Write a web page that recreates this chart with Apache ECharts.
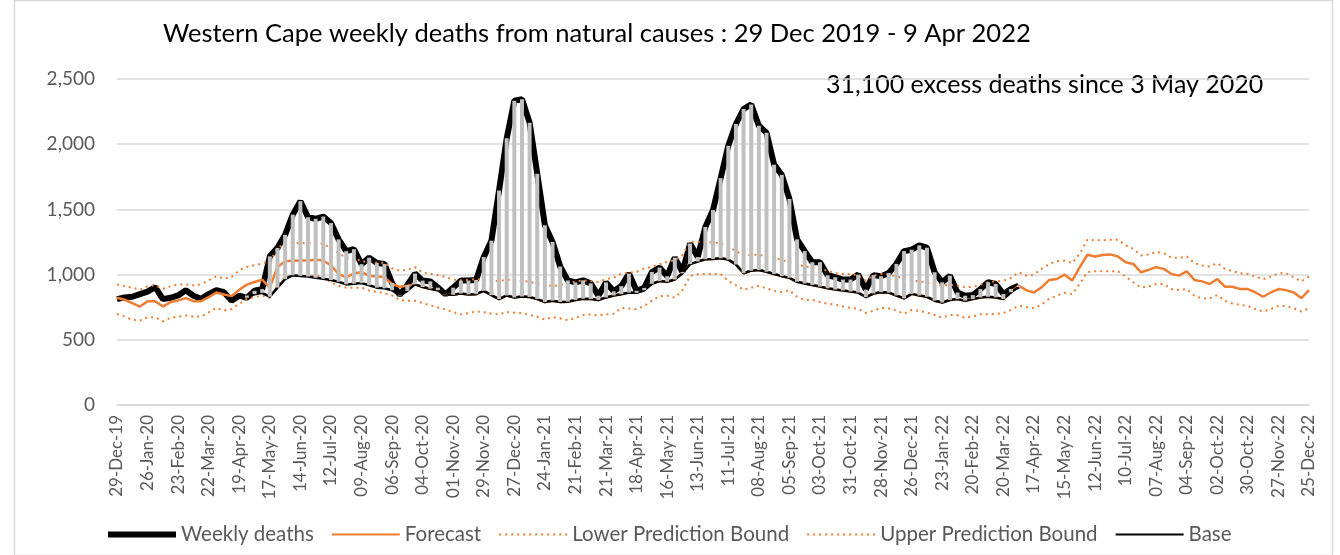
<!DOCTYPE html>
<html>
<head>
<meta charset="utf-8">
<title>Western Cape weekly deaths</title>
<script src="https://cdn.jsdelivr.net/npm/echarts@6/dist/echarts.min.js"></script>
<style>
  html, body { margin: 0; padding: 0; background: #fff; }
  #main { width: 1340px; height: 555px; }
</style>
</head>
<body>
<div id="main"></div>
<script>
// weekly categories start 29 Dec 2019, 157 weeks to 25 Dec 2022
var startDate = Date.UTC(2019, 11, 29);
var weekCount = 157;
var monthNames = ['Jan','Feb','Mar','Apr','May','Jun','Jul','Aug','Sep','Oct','Nov','Dec'];

var yTicks = [0, 500, 1000, 1500, 2000, 2500];

var titleText = 'Western Cape weekly deaths from natural causes : 29 Dec 2019 - 9 Apr 2022';
var noteText = '31,100 excess deaths since 3 May 2020';

// weekly deaths, 29 Dec 2019 .. 3 Apr 2022
var weeklyDeaths = [
  812, 825, 830, 850, 870, 905, 812, 822, 840, 880,
  838, 815, 850, 880, 865, 800, 838, 822, 876, 889,
  1140, 1205, 1305, 1460, 1563, 1440, 1428, 1445, 1395, 1270,
  1180, 1195, 1080, 1130, 1090, 1082, 935, 845, 920, 1008,
  954, 948, 900, 850, 900, 954, 954, 959, 1135, 1260,
  1645, 2045, 2334, 2345, 2165, 1773, 1378, 1250, 1062, 955,
  940, 956, 933, 838, 940, 872, 912, 1008, 876, 898,
  1020, 1054, 988, 1130, 1020, 1238, 1135, 1365, 1495, 1740,
  1988, 2155, 2270, 2305, 2142, 2088, 1843, 1765, 1580, 1270,
  1180, 1095, 1095, 995, 980, 962, 962, 1000, 885, 996,
  988, 1012, 1082, 1180, 1191, 1224, 1206, 1018, 941, 992,
  863, 838, 843, 889, 941, 928, 851, 889, 915
];

// base starts at week index 17 (26 Apr 2020)
var baseStart = 17;
var baseValues = [
  840, 850, 860,
  830, 900, 965, 995, 990, 985, 975, 968, 958, 945,
  925, 930, 935, 918, 900, 895, 880, 840, 875, 925,
  905, 892, 880, 848, 845, 855, 848, 850, 875, 842,
  812, 840, 825, 832, 828, 812, 790, 800, 790, 792,
  805, 815, 812, 805, 825, 840, 850, 862, 860, 880,
  930, 950, 945, 962, 1010, 1080, 1100, 1118, 1120, 1125,
  1115, 1078, 1010, 1030, 1035, 1022, 1005, 988, 975, 945,
  932, 920, 908, 895, 885, 878, 870, 862, 828, 855,
  865, 862, 840, 818, 852, 840, 830, 800, 786, 805,
  812, 800, 812, 825, 830, 825, 812, 865, 905
];

var forecast = [
  822, 807, 781, 755, 796, 796, 755, 789, 802, 820,
  796, 796, 827, 863, 848, 835, 884, 923, 943, 961,
  900, 1059, 1103, 1106, 1108, 1108, 1113, 1108, 1070, 1005,
  979, 1010, 1018, 992, 985, 979, 928, 907, 915, 925,
  905, 892, 880, 848, 845, 855, 848, 850, 875, 842,
  812, 840, 825, 832, 828, 812, 790, 800, 790, 792,
  805, 815, 812, 805, 825, 840, 850, 862, 860, 880,
  930, 950, 945, 962, 1010, 1080, 1100, 1118, 1120, 1125,
  1115, 1078, 1010, 1030, 1035, 1022, 1005, 988, 975, 945,
  932, 920, 908, 895, 885, 878, 870, 862, 828, 855,
  865, 862, 840, 818, 852, 840, 830, 800, 786, 805,
  812, 800, 812, 825, 830, 825, 812, 865, 915, 881,
  863, 902, 959, 966, 1000, 954, 1057, 1152, 1139, 1150,
  1155, 1139, 1095, 1082, 1018, 1036, 1057, 1044, 1005, 992,
  1026, 959, 948, 928, 966, 907, 907, 889, 889, 863,
  830, 863, 889, 881, 863, 820, 881
];

var upperBound = [
  925, 910, 900, 884, 910, 918, 892, 910, 925, 925,
  918, 925, 956, 987, 969, 982, 1034, 1059, 1072, 1085,
  1100, 1200, 1240, 1245, 1240, 1245, 1240, 1237, 1200, 1165,
  1130, 1136, 1100, 1100, 1092, 1090, 1048, 1030, 1036, 1057,
  1015, 1005, 995, 982, 962, 955, 960, 965, 960, 955,
  950, 960, 958, 951, 945, 930, 920, 912, 920, 936,
  946, 956, 950, 944, 965, 977, 1008, 1015, 1021, 1046,
  1060, 1079, 1097, 1110, 1149, 1251, 1251, 1250, 1247, 1240,
  1209, 1184, 1145, 1153, 1153, 1138, 1133, 1112, 1094, 1082,
  1061, 1056, 1043, 1031, 1010, 1005, 1005, 992, 954, 992,
  1005, 1000, 985, 970, 954, 948, 941, 928, 915, 923,
  915, 902, 907, 923, 941, 948, 954, 974, 1018, 992,
  1000, 1044, 1082, 1103, 1108, 1088, 1160, 1268, 1263, 1263,
  1268, 1268, 1224, 1198, 1147, 1155, 1173, 1165, 1129, 1129,
  1139, 1088, 1070, 1062, 1088, 1044, 1026, 1010, 1005, 985,
  964, 985, 1010, 1010, 979, 948, 985
];

var lowerBound = [
  698, 678, 652, 647, 673, 673, 642, 668, 678, 686,
  678, 678, 711, 745, 724, 737, 776, 814, 827, 840,
  822, 920, 985, 990, 992, 992, 990, 985, 940, 915,
  900, 900, 900, 878, 868, 858, 840, 805, 800, 799,
  782, 765, 748, 732, 712, 695, 705, 718, 712, 702,
  695, 713, 708, 705, 690, 677, 655, 675, 665, 650,
  668, 690, 695, 687, 695, 700, 745, 740, 735, 760,
  800, 835, 838, 823, 880, 990, 1003, 1004, 1005, 1005,
  950, 920, 883, 900, 914, 895, 876, 866, 880, 830,
  805, 806, 790, 776, 770, 755, 745, 737, 706, 722,
  745, 740, 724, 700, 730, 722, 709, 690, 670, 690,
  688, 668, 680, 696, 696, 698, 705, 730, 760, 752,
  742, 770, 815, 838, 860, 850, 930, 1020, 1026, 1026,
  1026, 1026, 985, 941, 902, 907, 928, 928, 889, 881,
  889, 838, 817, 817, 843, 799, 778, 768, 758, 735,
  717, 735, 760, 758, 742, 717, 742
];

function fmtDate(t) {
  var d = new Date(t);
  var dd = d.getUTCDate();
  return (dd < 10 ? '0' + dd : '' + dd) + '-' + monthNames[d.getUTCMonth()] + '-' +
    String(d.getUTCFullYear()).slice(2);
}

var categories = [];
for (var i = 0; i < weekCount; i++) {
  categories.push(fmtDate(startDate + i * 7 * 86400000));
}

function padTo(arr, offset) {
  var out = [];
  for (var i = 0; i < weekCount; i++) {
    var v = arr[i - offset];
    out.push(v === undefined ? null : v);
  }
  return out;
}

var weeklySeries = padTo(weeklyDeaths, 0);
var baseSeries = padTo(baseValues, baseStart);

// excess bars: from base up to weekly deaths
var excessData = [];
for (var k = 0; k < weekCount; k++) {
  if (weeklySeries[k] != null && baseSeries[k] != null) {
    excessData.push([k, baseSeries[k], weeklySeries[k]]);
  }
}

var FONT = 'Lato';
var GREY = '#595959';
var ORANGE = '#ED7D31';

var myChart = echarts.init(document.getElementById('main'));

var option = {
  backgroundColor: '#fff',
  animation: false,
  textStyle: { fontFamily: FONT },
  grid: { left: 117, right: 31, top: 79, bottom: 150 },
  graphic: [
    {
      type: 'rect', left: 12, top: -2, z: -10,
      shape: { width: 1318, height: 555 },
      style: { fill: 'none', stroke: '#d9d9d9', lineWidth: 1.5 }
    },
    {
      type: 'text', left: 163, top: 21,
      style: { text: titleText, fill: '#000', font: '25.5px ' + FONT }
    },
    {
      type: 'text', left: 826, top: 72,
      style: { text: noteText, fill: '#000', font: '25px ' + FONT }
    }
  ],
  legend: {
    bottom: 5,
    left: 100,
    itemWidth: 68,
    itemHeight: 14,
    itemGap: 17,
    itemStyle: { opacity: 0 },
    textStyle: { color: GREY, fontSize: 20.5, fontFamily: FONT },
    data: [
      { name: 'Weekly deaths', lineStyle: { width: 6 } },
      'Forecast',
      'Lower Prediction Bound',
      'Upper Prediction Bound',
      'Base'
    ]
  },
  xAxis: {
    type: 'category',
    data: categories,
    boundaryGap: false,
    axisLine: { show: true, lineStyle: { color: '#d9d9d9', width: 1.5 } },
    axisTick: { show: false },
    axisLabel: {
      interval: 3,
      rotate: 90,
      margin: 10,
      color: GREY,
      fontSize: 17,
      fontFamily: FONT
    }
  },
  yAxis: {
    type: 'value',
    min: yTicks[0],
    max: yTicks[yTicks.length - 1],
    interval: yTicks[1] - yTicks[0],
    axisLine: { show: false },
    axisTick: { show: false },
    splitLine: { lineStyle: { color: '#d9d9d9', width: 1.5 } },
    axisLabel: {
      margin: 22,
      color: GREY,
      fontSize: 19,
      fontFamily: FONT,
      formatter: function (v) { return v.toLocaleString('en-US'); }
    }
  },
  series: [
    {
      name: 'Weekly deaths',
      type: 'line',
      data: weeklySeries,
      symbol: 'none',
      z: 2,
      lineStyle: { color: '#000', width: 6 },
      itemStyle: { color: '#000' }
    },
    {
      name: 'Forecast',
      type: 'line',
      data: forecast,
      symbol: 'none',
      z: 3,
      lineStyle: { color: ORANGE, width: 2.5 },
      itemStyle: { color: ORANGE }
    },
    {
      name: 'Lower Prediction Bound',
      type: 'line',
      data: lowerBound,
      symbol: 'none',
      z: 3,
      lineStyle: { color: ORANGE, width: 2, type: [2, 4] },
      itemStyle: { color: ORANGE }
    },
    {
      name: 'Upper Prediction Bound',
      type: 'line',
      data: upperBound,
      symbol: 'none',
      z: 3,
      lineStyle: { color: ORANGE, width: 2, type: [2, 4] },
      itemStyle: { color: ORANGE }
    },
    {
      name: 'Base',
      type: 'line',
      data: baseSeries,
      symbol: 'none',
      z: 4,
      lineStyle: { color: '#000', width: 2.5 },
      itemStyle: { color: '#000' }
    },
    {
      name: 'Excess',
      type: 'custom',
      z: 5,
      data: excessData,
      encode: { x: 0, y: [1, 2] },
      renderItem: function (params, api) {
        var lo = api.coord([api.value(0), api.value(1)]);
        var hi = api.coord([api.value(0), api.value(2)]);
        return {
          type: 'rect',
          shape: {
            x: lo[0] - 2,
            y: Math.min(lo[1], hi[1]),
            width: 4,
            height: Math.abs(lo[1] - hi[1])
          },
          style: { fill: '#c0c0c0' }
        };
      }
    }
  ]
};

myChart.setOption(option);
window.addEventListener('resize', function () {
  myChart.resize();
});
</script>
</body>
</html>
